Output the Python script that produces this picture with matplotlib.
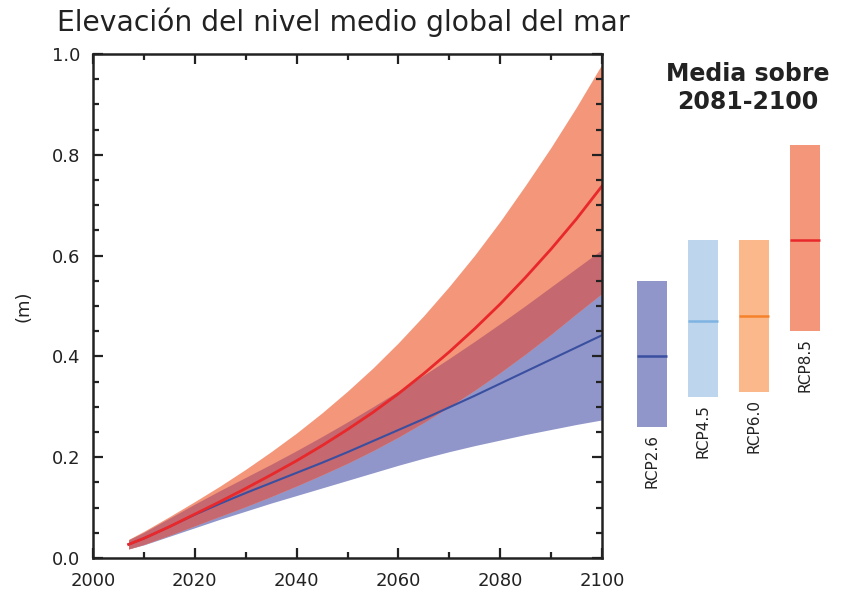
import numpy as np
import matplotlib
matplotlib.use("Agg")
import matplotlib.pyplot as plt
from matplotlib.ticker import MultipleLocator, FormatStrFormatter

plt.rcParams['font.family'] = ['DejaVu Sans']

# Time series (m), global mean sea level rise, RCP2.6 and RCP8.5
years = [2007, 2010, 2015, 2020, 2025, 2030, 2035, 2040, 2045, 2050,
         2055, 2060, 2065, 2070, 2075, 2080, 2085, 2090, 2095, 2100]

rcp85_mean = [0.027, 0.039, 0.062, 0.087, 0.112, 0.138, 0.165, 0.193, 0.223, 0.255,
              0.289, 0.326, 0.366, 0.409, 0.455, 0.504, 0.557, 0.613, 0.673, 0.738]
rcp85_high = [0.037, 0.053, 0.082, 0.112, 0.143, 0.176, 0.211, 0.248, 0.288, 0.331,
              0.377, 0.427, 0.481, 0.539, 0.601, 0.668, 0.740, 0.815, 0.895, 0.980]
rcp85_low = [0.018, 0.027, 0.045, 0.064, 0.083, 0.102, 0.122, 0.143, 0.165, 0.188,
             0.213, 0.240, 0.269, 0.300, 0.333, 0.368, 0.405, 0.444, 0.485, 0.525]

rcp26_mean = [0.027, 0.039, 0.062, 0.086, 0.108, 0.129, 0.149, 0.169, 0.189, 0.210,
              0.232, 0.254, 0.276, 0.299, 0.322, 0.346, 0.370, 0.394, 0.418, 0.442]
rcp26_high = [0.036, 0.051, 0.079, 0.107, 0.134, 0.160, 0.186, 0.213, 0.241, 0.270,
              0.300, 0.331, 0.363, 0.396, 0.430, 0.465, 0.501, 0.538, 0.575, 0.612]
rcp26_low = [0.018, 0.026, 0.043, 0.060, 0.077, 0.093, 0.109, 0.124, 0.139, 0.154,
             0.169, 0.184, 0.198, 0.211, 0.223, 0.234, 0.245, 0.255, 0.265, 0.274]

# 2081-2100 means and likely ranges
scenarios = ["RCP2.6", "RCP4.5", "RCP6.0", "RCP8.5"]
period_mean = [0.40, 0.47, 0.48, 0.63]
period_low = [0.26, 0.32, 0.33, 0.45]
period_high = [0.55, 0.63, 0.63, 0.82]

bar_colors = ["#9096CA", "#BDD6EE", "#FAB88B", "#F4967A"]
median_colors = ["#3A4FA0", "#7EB3E2", "#F5822A", "#E8282A"]

ORANGE = "#F4967A"
BLUE = "#9096CA"
OVERLAP = "#C5686F"
TXT = "#222222"

fig = plt.figure(figsize=(8.43, 5.93), dpi=100)
W, H = 843, 593

ax = fig.add_axes([93 / W, 35 / H, 509 / W, 504 / H])

yr = np.array(years, dtype=float)
r_lo, r_hi = np.array(rcp85_low), np.array(rcp85_high)
b_lo, b_hi = np.array(rcp26_low), np.array(rcp26_high)

ax.fill_between(yr, b_lo, b_hi, color=BLUE, lw=0)
ax.fill_between(yr, r_lo, r_hi, color=ORANGE, lw=0)
ov_lo = np.maximum(r_lo, b_lo)
ov_hi = np.minimum(r_hi, b_hi)
ax.fill_between(yr, ov_lo, ov_hi, where=ov_hi > ov_lo, color=OVERLAP, lw=0,
                interpolate=True)
ax.plot(yr, rcp26_mean, color="#3A4FA0", lw=1.5)
ax.plot(yr, rcp85_mean, color="#E8282A", lw=2.0)

ax.set_xlim(2000, 2100)
ax.set_ylim(0, 1.0)
ax.xaxis.set_major_locator(MultipleLocator(20))
ax.xaxis.set_minor_locator(MultipleLocator(10))
ax.yaxis.set_major_locator(MultipleLocator(0.2))
ax.yaxis.set_minor_locator(MultipleLocator(0.05))
ax.yaxis.set_major_formatter(FormatStrFormatter('%.1f'))
ax.tick_params(which='both', direction='in', top=True, right=True,
               colors='#222222', labelcolor=TXT, labelsize=13, width=1.6)
ax.tick_params(which='major', length=7)
ax.tick_params(which='minor', length=4)
ax.tick_params(axis='x', which='major', pad=10)
ax.tick_params(axis='y', which='major', pad=9)
for s in ax.spines.values():
    s.set_linewidth(1.8)
    s.set_color('#222222')
ax.set_ylabel("(m)", fontsize=13, color=TXT, labelpad=14)

fig.text(57 / W, 1 - 22 / H, "Elevación del nivel medio global del mar",
         fontsize=20.3, color=TXT, ha='left', va='center')

# Period means panel
ax2 = fig.add_axes([620 / W, 35 / H, 223 / W, 504 / H])
ax2.set_xlim(-0.62, 3.75)
ax2.set_ylim(0, 1.0)
ax2.axis('off')
xpos = np.arange(len(scenarios))
bw = 0.59
ax2.bar(xpos, np.array(period_high) - np.array(period_low), bottom=period_low,
        width=bw, color=bar_colors, lw=0)
for i, name in enumerate(scenarios):
    ax2.plot([i - bw / 2, i + bw / 2], [period_mean[i]] * 2,
             color=median_colors[i], lw=1.8, solid_capstyle='butt')
    ax2.text(i, period_low[i] - 0.014, name, rotation=90, ha='center', va='top',
             fontsize=11, color=TXT)

fig.text(748 / W, 1 - 88 / H, "Media sobre\n2081-2100", fontsize=17,
         fontweight='bold', color=TXT, ha='center', va='center', linespacing=1.2)

fig.savefig("out.png", dpi=100)
